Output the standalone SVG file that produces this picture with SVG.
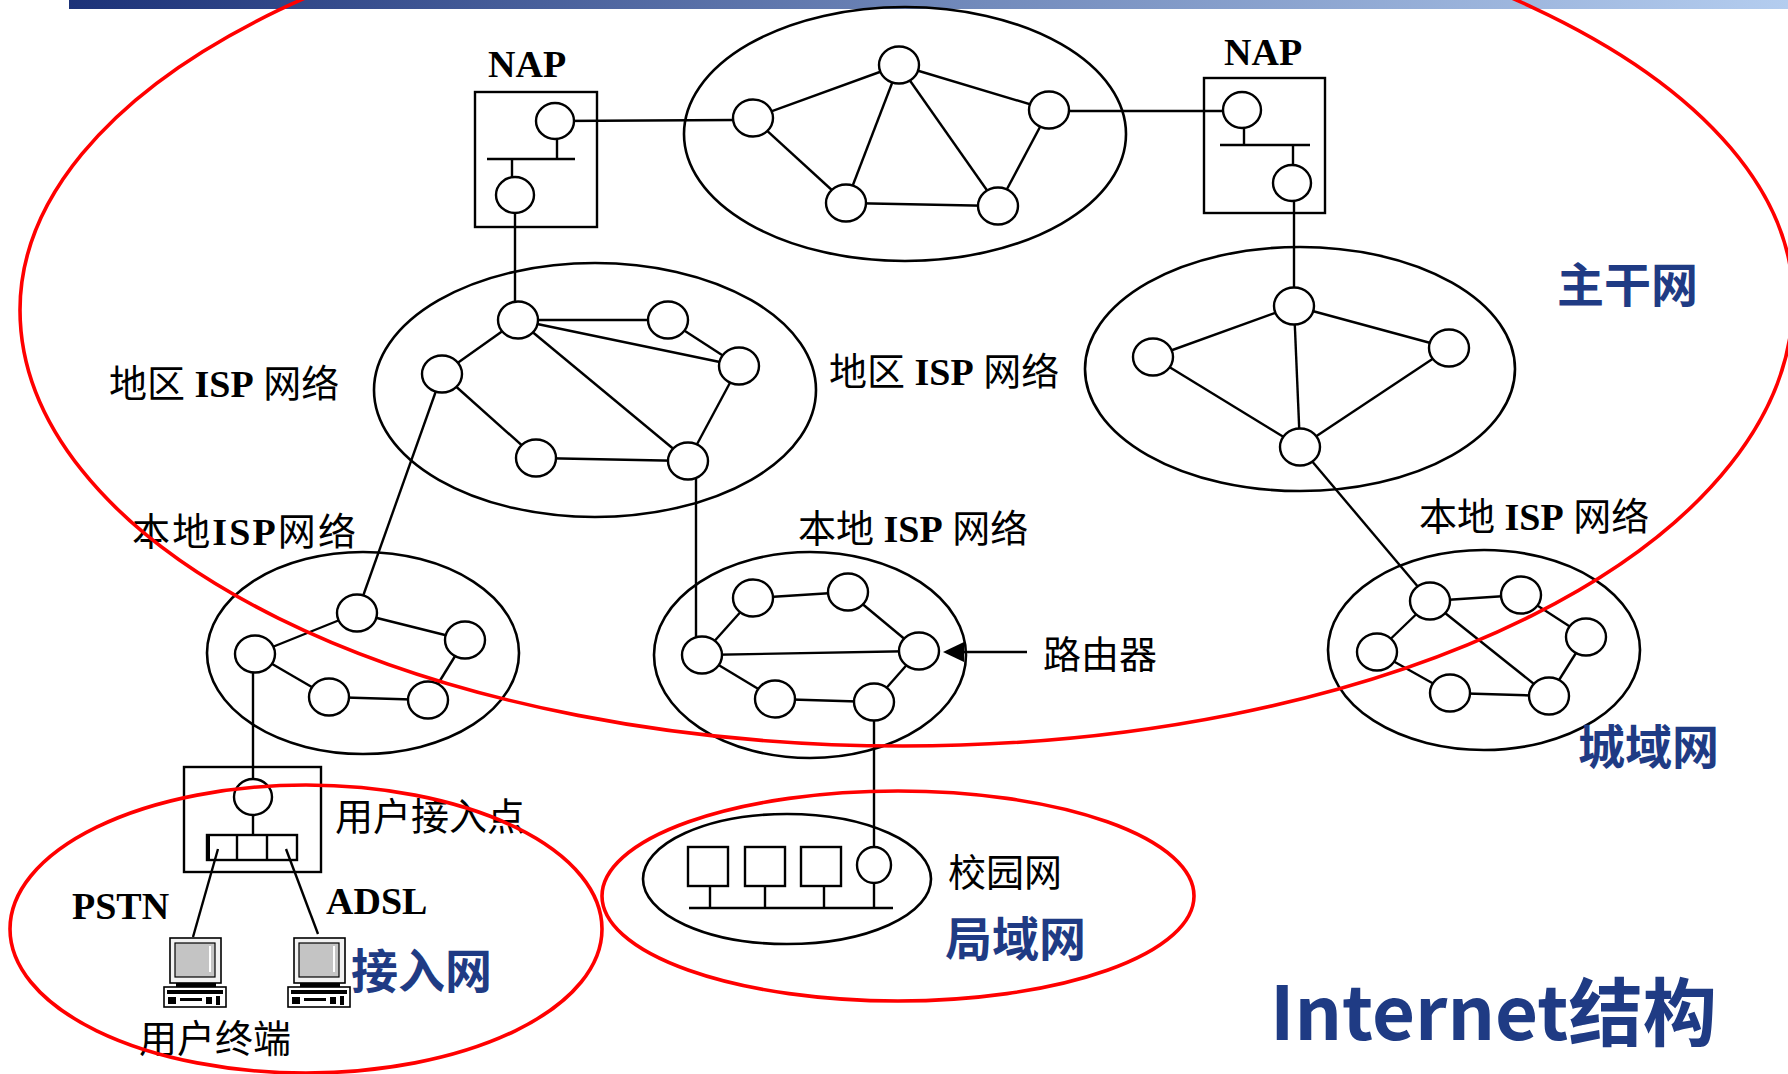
<svg xmlns="http://www.w3.org/2000/svg" width="1788" height="1074" viewBox="0 0 1788 1074">
<defs>
<linearGradient id="barGrad" x1="0" y1="0" x2="1" y2="0">
<stop offset="0" stop-color="#1c3278"/>
<stop offset="0.5" stop-color="#6e86b8"/>
<stop offset="1" stop-color="#b4cdef"/>
</linearGradient>
<g id="pc">
<rect x="6" y="0" width="51" height="45" fill="#f2f2f2" stroke="#000" stroke-width="1.6"/>
<rect x="11" y="5" width="40" height="34" fill="#c4c4c4" stroke="#000" stroke-width="1.2"/>
<line x1="46" y1="8" x2="46" y2="34" stroke="#fff" stroke-width="2"/>
<rect x="12" y="45" width="40" height="4" fill="#000"/>
<rect x="0" y="49" width="62" height="20" fill="#fff" stroke="#000" stroke-width="1.6"/>
<rect x="3" y="52" width="56" height="4" fill="#000"/>
<rect x="4" y="59" width="8" height="7" fill="#000"/>
<rect x="16" y="60" width="22" height="3" fill="#000"/>
<rect x="42" y="59" width="6" height="7" fill="#000"/>
<rect x="52" y="58" width="4" height="9" fill="#000"/>
</g>
</defs>
<style>
.net{fill:none;stroke:#000;stroke-width:2.6}
.r{fill:#fff;stroke:#000;stroke-width:2.4}
.box{fill:none;stroke:#000;stroke-width:2.4}
#connectors line{stroke:#000;stroke-width:2.4}
.red{fill:none;stroke:#ff0000;stroke-width:3.6}
.lbl{font-family:"Liberation Serif","Noto Sans CJK SC",serif;font-size:38px;fill:#000}
.b{font-weight:bold}
.blue{font-family:"Noto Sans CJK SC","Noto Sans",sans-serif;font-weight:bold;font-size:47px;fill:#1f3b84}
</style>
<rect x="69" y="0" width="1719" height="9" fill="url(#barGrad)"/>

<g id="net-outlines">
<ellipse class="net" cx="905" cy="134" rx="221" ry="127"/>
<ellipse class="net" cx="595" cy="390" rx="221" ry="127"/>
<ellipse class="net" cx="1300" cy="369" rx="215" ry="122"/>
<ellipse class="net" cx="363" cy="653" rx="156" ry="101"/>
<ellipse class="net" cx="810" cy="655" rx="156" ry="103"/>
<ellipse class="net" cx="1484" cy="650" rx="156" ry="100"/>
<ellipse class="net" cx="787" cy="879" rx="144" ry="65"/>
</g>

<g id="connectors">
<line x1="555" y1="121" x2="735" y2="120"/>
<line x1="557" y1="139" x2="557" y2="159"/>
<line x1="487" y1="159" x2="575" y2="159"/>
<line x1="512" y1="159" x2="512" y2="178"/>
<line x1="515" y1="213" x2="515" y2="304"/>
<line x1="1066" y1="111" x2="1242" y2="111"/>
<line x1="1244" y1="128" x2="1244" y2="145"/>
<line x1="1220" y1="145" x2="1310" y2="145"/>
<line x1="1293" y1="145" x2="1293" y2="166"/>
<line x1="1294" y1="201" x2="1294" y2="290"/>
<line x1="753" y1="118" x2="899" y2="65"/>
<line x1="899" y1="65" x2="1049" y2="110"/>
<line x1="899" y1="65" x2="846" y2="203"/>
<line x1="899" y1="65" x2="998" y2="206"/>
<line x1="753" y1="118" x2="846" y2="203"/>
<line x1="846" y1="203" x2="998" y2="206"/>
<line x1="1049" y1="110" x2="998" y2="206"/>
<line x1="518" y1="320" x2="668" y2="320"/>
<line x1="518" y1="320" x2="739" y2="366"/>
<line x1="518" y1="320" x2="442" y2="374"/>
<line x1="518" y1="320" x2="688" y2="461"/>
<line x1="668" y1="320" x2="739" y2="366"/>
<line x1="739" y1="366" x2="688" y2="461"/>
<line x1="442" y1="374" x2="536" y2="458"/>
<line x1="536" y1="458" x2="688" y2="461"/>
<line x1="442" y1="374" x2="357" y2="613"/>
<line x1="696" y1="476" x2="696" y2="640"/>
<line x1="1294" y1="306" x2="1153" y2="357"/>
<line x1="1294" y1="306" x2="1449" y2="348"/>
<line x1="1294" y1="306" x2="1300" y2="447"/>
<line x1="1153" y1="357" x2="1300" y2="447"/>
<line x1="1449" y1="348" x2="1300" y2="447"/>
<line x1="1300" y1="447" x2="1430" y2="601"/>
<line x1="357" y1="613" x2="255" y2="654"/>
<line x1="357" y1="613" x2="465" y2="640"/>
<line x1="255" y1="654" x2="329" y2="697"/>
<line x1="329" y1="697" x2="428" y2="700"/>
<line x1="465" y1="640" x2="428" y2="700"/>
<line x1="253" y1="654" x2="253" y2="797"/>
<line x1="753" y1="598" x2="848" y2="592"/>
<line x1="848" y1="592" x2="919" y2="651"/>
<line x1="753" y1="598" x2="702" y2="655"/>
<line x1="702" y1="655" x2="919" y2="651"/>
<line x1="702" y1="655" x2="775" y2="699"/>
<line x1="775" y1="699" x2="874" y2="702"/>
<line x1="874" y1="702" x2="919" y2="651"/>
<line x1="874" y1="702" x2="874" y2="865"/>
<line x1="1430" y1="601" x2="1521" y2="595"/>
<line x1="1521" y1="595" x2="1586" y2="637"/>
<line x1="1586" y1="637" x2="1549" y2="696"/>
<line x1="1430" y1="601" x2="1377" y2="652"/>
<line x1="1377" y1="652" x2="1450" y2="693"/>
<line x1="1450" y1="693" x2="1549" y2="696"/>
<line x1="1430" y1="601" x2="1549" y2="696"/>
<line x1="253" y1="815" x2="253" y2="835"/>
<line x1="218" y1="849" x2="193" y2="937"/>
<line x1="286" y1="849" x2="318" y2="934"/>
<line x1="689" y1="908" x2="893" y2="908"/>
<line x1="710" y1="886" x2="710" y2="908"/>
<line x1="765" y1="886" x2="765" y2="908"/>
<line x1="824" y1="886" x2="824" y2="908"/>
<line x1="874" y1="883" x2="874" y2="908"/>
<line x1="1027" y1="652" x2="960" y2="652"/>
<polygon points="943,652 964,642 964,662" fill="#000"/>
</g>

<g id="nap-left">
<rect class="box" x="475" y="92" width="122" height="135"/>
<ellipse id="nap-l-1" class="r" cx="555" cy="121" rx="19" ry="18"/>
<ellipse id="nap-l-2" class="r" cx="515" cy="195" rx="19" ry="18"/>
</g>
<g id="nap-right">
<rect class="box" x="1204" y="78" width="121" height="135"/>
<ellipse id="nap-r-1" class="r" cx="1242" cy="110" rx="19" ry="18"/>
<ellipse id="nap-r-2" class="r" cx="1292" cy="183" rx="19" ry="18"/>
</g>
<g id="backbone">
<ellipse id="bb-1" class="r" cx="753" cy="118" rx="20" ry="18.5"/>
<ellipse id="bb-2" class="r" cx="899" cy="65" rx="20" ry="18.5"/>
<ellipse id="bb-3" class="r" cx="1049" cy="110" rx="20" ry="18.5"/>
<ellipse id="bb-4" class="r" cx="846" cy="203" rx="20" ry="18.5"/>
<ellipse id="bb-5" class="r" cx="998" cy="206" rx="20" ry="18.5"/>
</g>
<g id="regional-left">
<ellipse id="rl-1" class="r" cx="518" cy="320" rx="20" ry="18.5"/>
<ellipse id="rl-2" class="r" cx="668" cy="320" rx="20" ry="18.5"/>
<ellipse id="rl-3" class="r" cx="739" cy="366" rx="20" ry="18.5"/>
<ellipse id="rl-4" class="r" cx="442" cy="374" rx="20" ry="18.5"/>
<ellipse id="rl-5" class="r" cx="536" cy="458" rx="20" ry="18.5"/>
<ellipse id="rl-6" class="r" cx="688" cy="461" rx="20" ry="18.5"/>
</g>
<g id="regional-right">
<ellipse id="rr-1" class="r" cx="1294" cy="306" rx="20" ry="18.5"/>
<ellipse id="rr-2" class="r" cx="1153" cy="357" rx="20" ry="18.5"/>
<ellipse id="rr-3" class="r" cx="1449" cy="348" rx="20" ry="18.5"/>
<ellipse id="rr-4" class="r" cx="1300" cy="447" rx="20" ry="18.5"/>
</g>
<g id="local-left">
<ellipse id="ll-1" class="r" cx="357" cy="613" rx="20" ry="18.5"/>
<ellipse id="ll-2" class="r" cx="255" cy="654" rx="20" ry="18.5"/>
<ellipse id="ll-3" class="r" cx="465" cy="640" rx="20" ry="18.5"/>
<ellipse id="ll-4" class="r" cx="329" cy="697" rx="20" ry="18.5"/>
<ellipse id="ll-5" class="r" cx="428" cy="700" rx="20" ry="18.5"/>
</g>
<g id="local-middle">
<ellipse id="lm-1" class="r" cx="753" cy="598" rx="20" ry="18.5"/>
<ellipse id="lm-2" class="r" cx="848" cy="592" rx="20" ry="18.5"/>
<ellipse id="lm-3" class="r" cx="702" cy="655" rx="20" ry="18.5"/>
<ellipse id="lm-4" class="r" cx="919" cy="651" rx="20" ry="18.5"/>
<ellipse id="lm-5" class="r" cx="775" cy="699" rx="20" ry="18.5"/>
<ellipse id="lm-6" class="r" cx="874" cy="702" rx="20" ry="18.5"/>
</g>
<g id="local-right">
<ellipse id="lr-1" class="r" cx="1430" cy="601" rx="20" ry="18.5"/>
<ellipse id="lr-2" class="r" cx="1521" cy="595" rx="20" ry="18.5"/>
<ellipse id="lr-3" class="r" cx="1586" cy="637" rx="20" ry="18.5"/>
<ellipse id="lr-4" class="r" cx="1377" cy="652" rx="20" ry="18.5"/>
<ellipse id="lr-5" class="r" cx="1450" cy="693" rx="20" ry="18.5"/>
<ellipse id="lr-6" class="r" cx="1549" cy="696" rx="20" ry="18.5"/>
</g>
<g id="access-point">
<rect class="box" x="184" y="767" width="137" height="105"/>
<ellipse id="ap-1" class="r" cx="253" cy="797" rx="19" ry="18"/>
<rect class="box" x="207" y="835" width="90" height="25"/>
<line x1="208" y1="835" x2="208" y2="860" stroke="#000" stroke-width="4"/>
<line x1="237" y1="835" x2="237" y2="860" stroke="#000" stroke-width="2.4"/>
<line x1="267" y1="835" x2="267" y2="860" stroke="#000" stroke-width="2.4"/>
</g>
<g id="terminal-1"><use href="#pc" x="164" y="938"/></g>
<g id="terminal-2"><use href="#pc" x="288" y="938"/></g>
<g id="campus">
<rect class="box" x="688" y="847" width="40" height="39"/>
<rect class="box" x="745" y="847" width="40" height="39"/>
<rect class="box" x="801" y="847" width="40" height="39"/>
<ellipse id="lan-1" class="r" cx="874" cy="865" rx="17" ry="18"/>
</g>

<g id="labels">
<text class="lbl b" x="488" y="77">NAP</text>
<text class="lbl b" x="1224" y="65">NAP</text>
<text class="lbl" x="109" y="397">地区 <tspan class="b">ISP</tspan> 网络</text>
<text class="lbl" x="829" y="385">地区 <tspan class="b">ISP</tspan> 网络</text>
<text class="lbl" x="132" y="545" textLength="224">本地<tspan class="b">ISP</tspan>网络</text>
<text class="lbl" x="798" y="542">本地 <tspan class="b">ISP</tspan> 网络</text>
<text class="lbl" x="1419" y="530">本地 <tspan class="b">ISP</tspan> 网络</text>
<text class="lbl" x="1043" y="668">路由器</text>
<text class="lbl" x="335" y="830">用户接入点</text>
<text class="lbl b" x="72" y="919">PSTN</text>
<text class="lbl b" x="326" y="914">ADSL</text>
<text class="lbl" x="139" y="1052">用户终端</text>
<text class="lbl" x="948" y="886">校园网</text>
<text class="blue" x="1557" y="302">主干网</text>
<text class="blue" x="1578" y="764">城域网</text>
<text class="blue" x="945" y="956">局域网</text>
<text class="blue" x="351" y="988">接入网</text>
<text class="blue" x="1270" y="1040" style="font-size:74px" textLength="447" lengthAdjust="spacingAndGlyphs">Internet结构</text>
</g>

<g id="regions">
<path class="red" d="M 20,310 A 883 424 0 0 1 903,-114 A 890 414 0 0 1 1793,300 A 890 446 0 0 1 903,746 A 883 436 0 0 1 20,310 Z"/>
<ellipse class="red" cx="306" cy="929" rx="296" ry="144"/>
<ellipse class="red" cx="898" cy="896" rx="296" ry="105"/>
</g>
</svg>
